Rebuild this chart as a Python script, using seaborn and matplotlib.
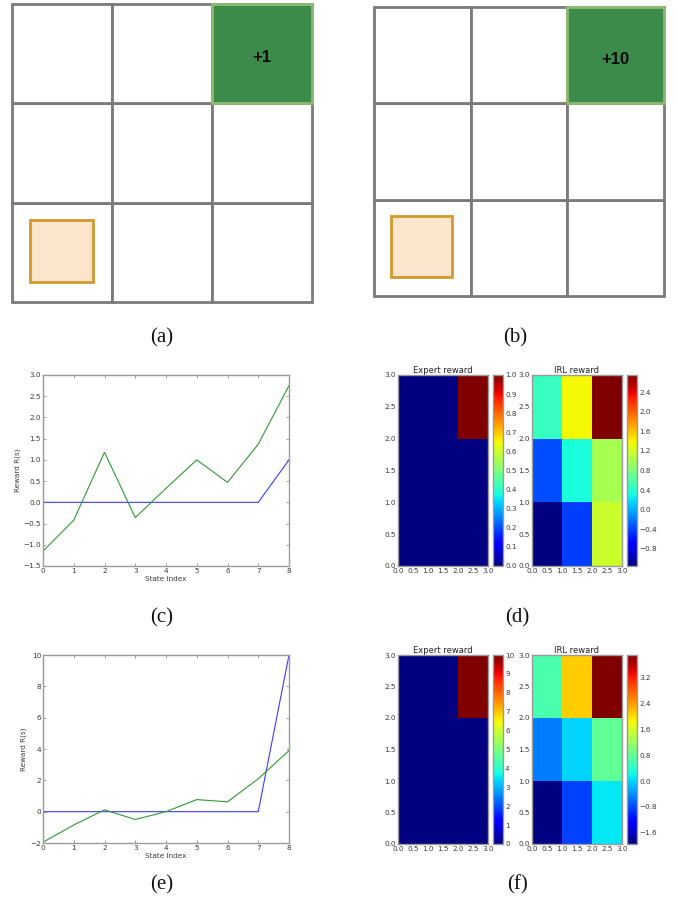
import numpy as np
import matplotlib
matplotlib.use("Agg")
import matplotlib.pyplot as plt
import seaborn as sns
from matplotlib.patches import Rectangle

# ---------------- data ----------------
states = [0, 1, 2, 3, 4, 5, 6, 7, 8]
expert_a = [0, 0, 0, 0, 0, 0, 0, 0, 1]
irl_a = [-1.15, -0.42, 1.18, -0.36, 0.33, 1.00, 0.47, 1.37, 2.75]
expert_b = [0, 0, 0, 0, 0, 0, 0, 0, 10]
irl_b = [-1.95, -0.85, 0.12, -0.50, 0.00, 0.77, 0.63, 2.10, 3.90]
goal_labels = ["+1", "+10"]
panel_labels = ["(a)", "(b)", "(c)", "(d)", "(e)", "(f)"]
c_yticks = [-1.5, -1.0, -0.5, 0.0, 0.5, 1.0, 1.5, 2.0, 2.5, 3.0]
e_yticks = [-2, 0, 2, 4, 6, 8, 10]
grid_ticks = [0.0, 0.5, 1.0, 1.5, 2.0, 2.5, 3.0]
cb_expert_a = [0.0, 0.1, 0.2, 0.3, 0.4, 0.5, 0.6, 0.7, 0.8, 0.9, 1.0]
cb_irl_a = [-0.8, -0.4, 0.0, 0.4, 0.8, 1.2, 1.6, 2.0, 2.4]
cb_expert_b = [0, 1, 2, 3, 4, 5, 6, 7, 8, 9, 10]
cb_irl_b = [-1.6, -0.8, 0.0, 0.8, 1.6, 2.4, 3.2]

# ---------------- style ----------------
SPINE = "#9a9a9a"
TXT = "#3a3a3a"
FS = 5.2
sns.set_theme(style="ticks")
plt.rcParams.update({
    "font.family": ["DejaVu Sans"],
    "xtick.direction": "in", "ytick.direction": "in",
    "xtick.top": True, "ytick.right": True,
    "xtick.labelsize": FS, "ytick.labelsize": FS,
    "xtick.major.size": 2.5, "ytick.major.size": 2.5,
    "xtick.major.width": 0.5, "ytick.major.width": 0.5,
    "xtick.major.pad": 1.5, "ytick.major.pad": 1.5,
    "axes.linewidth": 1.0, "axes.edgecolor": SPINE,
    "xtick.color": "#777777", "ytick.color": "#777777",
    "xtick.labelcolor": TXT, "ytick.labelcolor": TXT,
    "text.color": TXT, "axes.labelcolor": TXT,
})

W, H = 678, 911
fig = plt.figure(figsize=(W / 100, H / 100), dpi=100)


def add_ax(left, top, right, bottom):
    return fig.add_axes([left / W, 1 - bottom / H, (right - left) / W, (bottom - top) / H])


def fmt(v, nd=1):
    s = f"{v:.{nd}f}"
    return s.replace("-", "\u2212")


# ---------------- grid-world diagrams ----------------
def draw_world(ax, label):
    ax.set_xlim(0, 3)
    ax.set_ylim(0, 3)
    ax.axis("off")
    for r in range(3):
        for c in range(3):
            ax.add_patch(Rectangle((c, r), 1, 1, facecolor="white", edgecolor="#7a7a7a",
                                   lw=2.0, clip_on=False))
    ax.add_patch(Rectangle((2, 2), 1, 1, facecolor="#3d8b4a", edgecolor="#8dbb72",
                           lw=2.0, clip_on=False, zorder=3))
    ax.text(2.5, 2.46, label, ha="center", va="center", fontsize=12, fontweight="bold",
            family="Liberation Sans", color="#0a0a0a", zorder=4)
    ax.add_patch(Rectangle((0.18, 0.2), 0.63, 0.63, facecolor="#fbe5cc", edgecolor="#d4982c",
                           lw=2.0, zorder=3))


draw_world(add_ax(12, 4, 312, 302), goal_labels[0])
draw_world(add_ax(374, 7, 664, 296), goal_labels[1])


# ---------------- line plots ----------------
def line_panel(ax, expert, irl, yticks, ylim):
    sns.lineplot(x=states, y=expert, color="#3b3bff", lw=0.8, ax=ax)
    sns.lineplot(x=states, y=irl, color="#2f9a2f", lw=0.8, ax=ax)
    ax.set_xlim(0, 8)
    ax.set_ylim(*ylim)
    ax.set_xticks(states)
    ax.set_xticklabels([str(s) for s in states])
    ax.set_yticks(yticks)
    nd = 1 if any(isinstance(t, float) for t in yticks) else 0
    ax.set_yticklabels([fmt(t, nd) for t in yticks])
    ax.set_xlabel("State Index", fontsize=FS, labelpad=1.5)
    ax.set_ylabel("Reward R(s)", fontsize=FS, labelpad=2)


line_panel(add_ax(43, 375, 289, 566), expert_a, irl_a, c_yticks, (-1.5, 3.0))
line_panel(add_ax(43, 655, 289, 843), expert_b, irl_b, e_yticks, (-2, 10))


# ---------------- heatmaps ----------------
def heat(ax, cax, values, title, cticks, nd):
    grid = np.array(values, dtype=float).reshape(3, 3)
    sns.heatmap(grid, cmap="jet", ax=ax, cbar_ax=cax, vmin=min(values), vmax=max(values),
                xticklabels=False, yticklabels=False, linewidths=0)
    ax.set_xlim(0, 3)
    ax.set_ylim(0, 3)
    ax.set_xticks(grid_ticks, labels=[fmt(t) for t in grid_ticks])
    ax.set_yticks(grid_ticks, labels=[fmt(t) for t in grid_ticks])
    ax.tick_params(axis="both", which="both", direction="in", top=True, right=True,
                   labelsize=FS, length=2.5, width=0.5, pad=1.5)
    for s in ax.spines.values():
        s.set_visible(True)
        s.set_linewidth(1.0)
        s.set_edgecolor(SPINE)
    ax.set_title(title, fontsize=6.0, pad=1.5, color="#222222")
    cb = ax.collections[0].colorbar
    cb.set_ticks(cticks, labels=[fmt(t, nd) for t in cticks])
    cb.outline.set_linewidth(1.0)
    cb.outline.set_edgecolor(SPINE)
    cax.tick_params(labelsize=FS, direction="in", length=2.5, width=0.5, pad=1.5,
                    left=True, right=True)


heat(add_ax(398, 375, 488, 566), add_ax(493, 375, 503, 566), expert_a, "Expert reward", cb_expert_a, 1)
heat(add_ax(532, 375, 622, 566), add_ax(627, 375, 637, 566), irl_a, "IRL reward", cb_irl_a, 1)
heat(add_ax(398, 655, 488, 844), add_ax(493, 655, 503, 844), expert_b, "Expert reward", cb_expert_b, 0)
heat(add_ax(532, 655, 622, 844), add_ax(627, 655, 637, 844), irl_b, "IRL reward", cb_irl_b, 1)

# ---------------- panel labels ----------------
label_pos = [(162, 338), (515, 338), (162, 618), (517, 618), (162, 885), (517, 885)]
for lab, (x, y) in zip(panel_labels, label_pos):
    fig.text(x / W, 1 - y / H, lab, ha="center", va="center", fontsize=15,
             family="Liberation Serif", color="#111111")

fig.savefig("out.png", dpi=100)
